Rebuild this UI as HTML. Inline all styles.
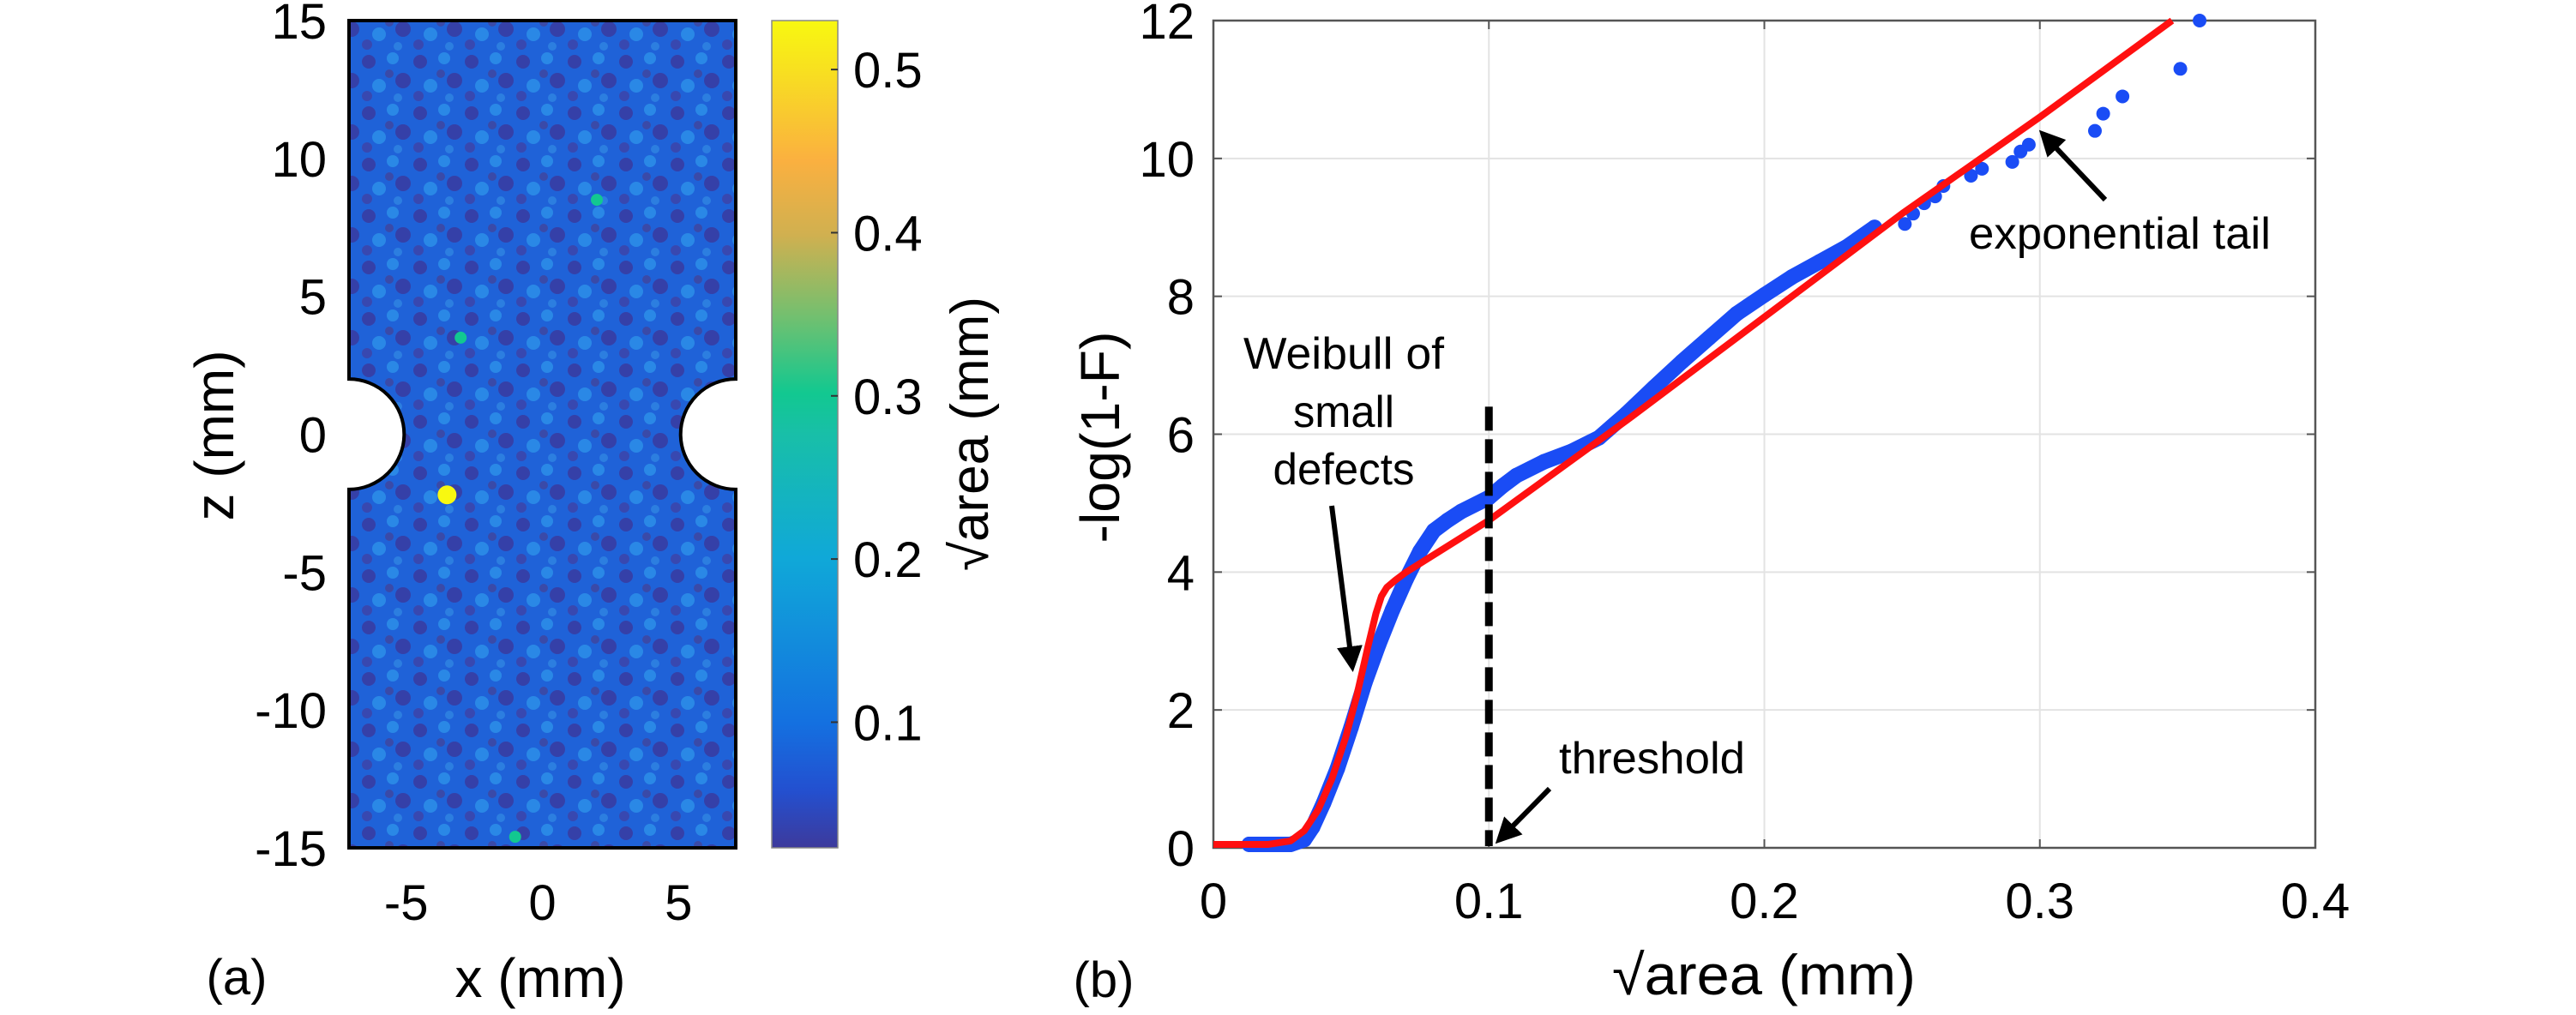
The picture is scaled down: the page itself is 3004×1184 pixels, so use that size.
<!DOCTYPE html>
<html><head><meta charset="utf-8">
<style>
html,body{margin:0;padding:0;background:#fff;}
svg{display:block;font-family:"Liberation Sans",Arial,sans-serif;}
.cal{font-family:"Liberation Sans Narrow","Liberation Sans",sans-serif;}
</style></head>
<body>
<svg id="fig" width="3004" height="1184" viewBox="0 0 3004 1184" xmlns="http://www.w3.org/2000/svg">
<defs>
  <pattern id="speckle" width="60" height="60" patternUnits="userSpaceOnUse">
    <rect width="60" height="60" fill="#1f62d8"/>
    <circle cx="10" cy="12" r="8" fill="#3540a8"/>
    <circle cx="38" cy="8" r="7" fill="#2a88e6"/>
    <circle cx="50" cy="34" r="9" fill="#3540a8"/>
    <circle cx="22" cy="40" r="8" fill="#2a88e6"/>
    <circle cx="8" cy="52" r="6" fill="#3848b0"/>
    <circle cx="34" cy="26" r="5" fill="#3a4aa8"/>
    <circle cx="44" cy="54" r="5" fill="#2c7ee0"/>
  </pattern>
  <linearGradient id="parula" x1="0" y1="1" x2="0" y2="0">
    <stop offset="0" stop-color="#3d3a9c"/>
    <stop offset="0.07" stop-color="#2350d0"/>
    <stop offset="0.15" stop-color="#1470e0"/>
    <stop offset="0.35" stop-color="#10a8d8"/>
    <stop offset="0.5" stop-color="#18bfa8"/>
    <stop offset="0.55" stop-color="#12c890"/>
    <stop offset="0.64" stop-color="#70c070"/>
    <stop offset="0.74" stop-color="#d0b050"/>
    <stop offset="0.83" stop-color="#fab040"/>
    <stop offset="0.94" stop-color="#f8e020"/>
    <stop offset="1" stop-color="#f8f810"/>
  </linearGradient>
  <marker id="ah" viewBox="0 0 10 10" refX="8" refY="5" markerWidth="5" markerHeight="5" orient="auto">
    <path d="M0,0 L10,5 L0,10 z" fill="#000"/>
  </marker>
</defs>
<g id="panelA"></g>
<g id="panelB"></g>
</svg>
<script>
// ---------- Panel (a) data ----------
const aXTicks = [-5, 0, 5];
const aZTicks = [15, 10, 5, 0, -5, -10, -15];
const cbTicks = [0.1, 0.2, 0.3, 0.4, 0.5];
const aXDomain = [-7.1, 7.1];
const aZDomain = [-15, 15];
const cbDomain = [0.023, 0.53];
const holeRadius = [2];
const hotSpotX = [-3.5, -3, 2, -1];
const hotSpotZ = [-2.2, 3.5, 8.5, -14.6];
const hotSpotV = [0.52, 0.3, 0.28, 0.3];

// ---------- Panel (b) data ----------
const bXTicks = [0, 0.1, 0.2, 0.3, 0.4];
const bXTickLabels = ["0", "0.1", "0.2", "0.3", "0.4"];
const bYTicks = [0, 2, 4, 6, 8, 10, 12];
const fitX = [0, 0.02, 0.028, 0.033, 0.038, 0.043, 0.048, 0.052, 0.056, 0.059, 0.061, 0.063, 0.066, 0.07, 0.1, 0.15, 0.2, 0.25, 0.3, 0.348];
const fitY = [0.05, 0.05, 0.1, 0.25, 0.55, 1.0, 1.6, 2.2, 2.9, 3.4, 3.65, 3.78, 3.88, 4.0, 4.75, 6.2, 7.7, 9.2, 10.6, 12.0];
const denseX = [0.013, 0.02, 0.028, 0.033, 0.036, 0.04, 0.045, 0.05, 0.055, 0.06, 0.065, 0.07, 0.075, 0.08, 0.085, 0.09, 0.1, 0.105, 0.11, 0.12, 0.13, 0.14, 0.15, 0.16, 0.17, 0.18, 0.19, 0.2, 0.21, 0.22, 0.23, 0.24];
const denseY = [0.05, 0.05, 0.05, 0.12, 0.3, 0.65, 1.15, 1.75, 2.4, 2.95, 3.45, 3.9, 4.3, 4.6, 4.75, 4.88, 5.08, 5.25, 5.4, 5.6, 5.75, 5.95, 6.3, 6.68, 7.05, 7.4, 7.75, 8.02, 8.28, 8.5, 8.72, 9.0];
const tailX = [0.251, 0.254, 0.258, 0.262, 0.265, 0.275, 0.279, 0.29, 0.293, 0.296, 0.32, 0.323, 0.33, 0.351, 0.358];
const tailY = [9.05, 9.2, 9.35, 9.45, 9.6, 9.75, 9.85, 9.95, 10.1, 10.2, 10.4, 10.65, 10.9, 11.3, 12.0];
const thresholdX = [0.1];
const thresholdTop = [6.4];

const NS = "http://www.w3.org/2000/svg";
function mk(tag, attrs, parent, txt){
  const e = document.createElementNS(NS, tag);
  for (const k in attrs) e.setAttribute(k, attrs[k]);
  if (txt !== undefined) e.textContent = txt;
  parent.appendChild(e);
  return e;
}
function lin(d0,d1,r0,r1){return v => r0 + (v-d0)/(d1-d0)*(r1-r0);}

// ---------- Panel A ----------
(function(){
  const g = document.getElementById('panelA');
  const L=407, R=858, T=24, B=989;
  const sx = lin(aXDomain[0], aXDomain[1], L, R);
  const sz = lin(aZDomain[0], aZDomain[1], B, T);
  const r = sz(0) - sz(holeRadius[0]);
  const cy = sz(0);
  const d = `M${L},${T} L${R},${T} L${R},${cy-r} A${r},${r} 0 0 0 ${R},${cy+r} L${R},${B} L${L},${B} L${L},${cy+r} A${r},${r} 0 0 0 ${L},${cy-r} Z`;
  let p = mk('path', {d:d, fill:'url(#speckle)', stroke:'#000', 'stroke-width':4}, g);
  
  
  const cb = lin(cbDomain[0], cbDomain[1], 0, 1);
  const cols = ['#3d3a9c','#1470e0','#10a8d8','#12c890','#fab040','#f8f810'];
  hotSpotX.forEach((x,i)=>{
    const f = cb(hotSpotV[i]);
    const c = cols[Math.min(5, Math.round(f*5))];
    const s = mk('circle', {cx:sx(x), cy:sz(hotSpotZ[i]), r: i===0?11:7, fill:c}, g);
    
    
  });
  aZTicks.forEach(v=>{
    const t = mk('text', {x:381, y:sz(v)+21, 'font-size':58, 'text-anchor':'end'}, g, String(v));
    
    
  });
  aXTicks.forEach(v=>{
    const t = mk('text', {x:sx(v), y:1073, 'font-size':58, 'text-anchor':'middle'}, g, String(v));
    
    
  });
  let t = mk('text', {x:630, y:1163, 'font-size':64, 'text-anchor':'middle'}, g, 'x (mm)');
  
  
  t = mk('text', {x:0, y:0, 'font-size':64, 'text-anchor':'middle', transform:'translate(272,508) rotate(-90)'}, g, 'z (mm)');
  
  
  t = mk('text', {x:276, y:1160, 'font-size':58, 'text-anchor':'middle', class:'cal'}, g, '(a)');
  
  
  // colorbar
  const cL=900, cR=977;
  const scb = lin(cbDomain[0], cbDomain[1], B, T);
  let rct = mk('rect', {x:cL, y:T, width:cR-cL, height:B-T, fill:'url(#parula)', stroke:'#888', 'stroke-width':1.5}, g);
  
  
  cbTicks.forEach(v=>{
    const tk = mk('line', {x1:cR-8, x2:cR, y1:scb(v), y2:scb(v), stroke:'#333', 'stroke-width':2}, g);
    
    
    const tl = mk('text', {x:995, y:scb(v)+21, 'font-size':58}, g, v.toFixed(1));
    
    
  });
  t = mk('text', {x:0, y:0, 'font-size':62, 'text-anchor':'middle', transform:'translate(1152,506) rotate(-90)'}, g, '√area (mm)');
  
  
})();

// ---------- Panel B ----------
(function(){
  const g = document.getElementById('panelB');
  const L=1415, R=2700, T=24, B=989;
  const sx = lin(0, 0.4, L, R);
  const sy = lin(0, 12, B, T);
  bXTicks.slice(1,-1).forEach(v=>{
    const l = mk('line', {x1:sx(v), x2:sx(v), y1:T, y2:B, stroke:'#e3e3e3', 'stroke-width':2}, g);
    
    
  });
  bYTicks.slice(1,-1).forEach(v=>{
    const l = mk('line', {x1:L, x2:R, y1:sy(v), y2:sy(v), stroke:'#e3e3e3', 'stroke-width':2}, g);
    
    
  });
  let box = mk('rect', {x:L, y:T, width:R-L, height:B-T, fill:'none', stroke:'#555', 'stroke-width':2.5}, g);
  
  
  bXTicks.forEach((v,i)=>{
    const tk = mk('line', {x1:sx(v), x2:sx(v), y1:B, y2:B-10, stroke:'#555', 'stroke-width':2}, g);
    
    
    const tk2 = mk('line', {x1:sx(v), x2:sx(v), y1:T, y2:T+10, stroke:'#555', 'stroke-width':2}, g);
    
    
    const tl = mk('text', {x:sx(v), y:1071, 'font-size':58, 'text-anchor':'middle'}, g, bXTickLabels[i]);
    
    
  });
  bYTicks.forEach(v=>{
    const tk = mk('line', {x1:L, x2:L+10, y1:sy(v), y2:sy(v), stroke:'#555', 'stroke-width':2}, g);
    
    
    const tk2 = mk('line', {x1:R, x2:R-10, y1:sy(v), y2:sy(v), stroke:'#555', 'stroke-width':2}, g);
    
    
    const tl = mk('text', {x:1393, y:sy(v)+21, 'font-size':58, 'text-anchor':'end'}, g, String(v));
    
    
  });
  // dense data band
  const densePts = denseX.map((x,i)=>sx(x)+','+sy(denseY[i])).join(' ');
  let band = mk('polyline', {points:densePts, fill:'none', stroke:'#1a4cf5', 'stroke-width':18, 'stroke-linejoin':'round', 'stroke-linecap':'round'}, g);
  
  
  denseX.forEach((x,i)=>{
    const c = mk('circle', {cx:sx(x), cy:sy(denseY[i]), r:9, fill:'#1a4cf5'}, g);
    
    
  });
  tailX.forEach((x,i)=>{
    const c = mk('circle', {cx:sx(x), cy:sy(tailY[i]), r:8, fill:'#1a4cf5'}, g);
    
    
  });
  // fit
  const fitPts = fitX.map((x,i)=>sx(x)+','+sy(fitY[i])).join(' ');
  let fit = mk('polyline', {points:fitPts, fill:'none', stroke:'#ff1010', 'stroke-width':8, 'stroke-linejoin':'round'}, g);
  
  
  // threshold
  let th = mk('line', {x1:sx(thresholdX[0]), x2:sx(thresholdX[0]), y1:sy(thresholdTop[0]), y2:B-2, stroke:'#000', 'stroke-width':9, 'stroke-dasharray':'28 10'}, g);
  
  
  // annotations
  let a = mk('line', {x1:2455, y1:233, x2:2382, y2:156, stroke:'#000', 'stroke-width':6, 'marker-end':'url(#ah)'}, g);
  
  
  let t = mk('text', {x:2648, y:290, 'font-size':52, 'text-anchor':'end', class:'cal', textLength:352, lengthAdjust:'spacingAndGlyphs'}, g, 'exponential tail');
  
  
  a = mk('line', {x1:1553, y1:590, x2:1577, y2:778, stroke:'#000', 'stroke-width':6, 'marker-end':'url(#ah)'}, g);
  
  
  [['Weibull of',430,234],['small',498,118],['defects',565,165]].forEach(s=>{
    const tt = mk('text', {x:1567, y:s[1], 'font-size':52, 'text-anchor':'middle', class:'cal', textLength:s[2], lengthAdjust:'spacingAndGlyphs'}, g, s[0]);
    
    
  });
  a = mk('line', {x1:1807, y1:920, x2:1748, y2:980, stroke:'#000', 'stroke-width':6, 'marker-end':'url(#ah)'}, g);
  
  
  t = mk('text', {x:1818, y:902, 'font-size':52, class:'cal', textLength:217, lengthAdjust:'spacingAndGlyphs'}, g, 'threshold');
  
  
  t = mk('text', {x:2057, y:1160, 'font-size':66, 'text-anchor':'middle', textLength:354, lengthAdjust:'spacingAndGlyphs'}, g, '√area (mm)');
  
  
  t = mk('text', {x:0, y:0, 'font-size':64, 'text-anchor':'middle', transform:'translate(1305,510) rotate(-90)', textLength:247, lengthAdjust:'spacingAndGlyphs'}, g, '-log(1-F)');
  
  
  t = mk('text', {x:1287, y:1163, 'font-size':58, 'text-anchor':'middle', class:'cal'}, g, '(b)');
  
  
})();
</script>
</body></html>
